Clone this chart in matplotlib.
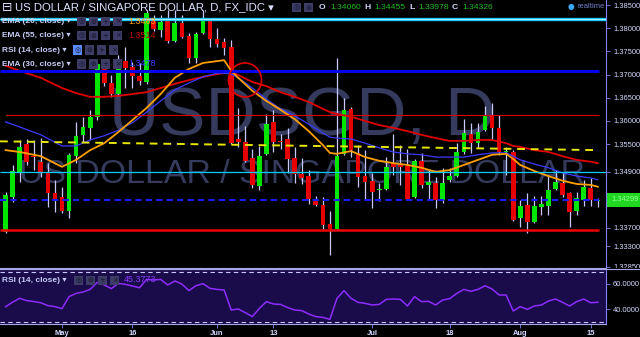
import matplotlib
matplotlib.use("Agg")
import matplotlib.pyplot as plt
from matplotlib.patches import Rectangle, Ellipse
from matplotlib.lines import Line2D
import numpy as np

plt.rcParams['font.family'] = ['Liberation Sans', 'DejaVu Sans']

# daily candles, 20 Apr -> 16 Aug 2016
opens = [1.3360, 1.3436, 1.3490, 1.3550, 1.3524, 1.3511, 1.3488, 1.3445, 1.3436, 1.3406,
         1.3524, 1.3570, 1.3585, 1.3609, 1.3723, 1.3682, 1.3658, 1.3729, 1.3716, 1.3697,
         1.3684, 1.3816, 1.3796, 1.3818, 1.3772, 1.3811, 1.3783, 1.3736, 1.3790, 1.3816,
         1.3777, 1.3770, 1.3759, 1.3561, 1.3555, 1.3520, 1.3460, 1.3529, 1.3598, 1.3557,
         1.3561, 1.3520, 1.3486, 1.3481, 1.3430, 1.3419, 1.3378, 1.3367, 1.3529, 1.3626,
         1.3531, 1.3481, 1.3471, 1.3452, 1.3453, 1.3509, 1.3505, 1.3503, 1.3436, 1.3514,
         1.3462, 1.3466, 1.3430, 1.3473, 1.3481, 1.3533, 1.3572, 1.3552, 1.3580, 1.3611,
         1.3585, 1.3533, 1.3533, 1.3391, 1.3419, 1.3382, 1.3414, 1.3417, 1.3453, 1.3466,
         1.3445, 1.3406, 1.3430, 1.3455, 1.3428]
highs = [1.3447, 1.3505, 1.3559, 1.3561, 1.3559, 1.3563, 1.3509, 1.3473, 1.3458, 1.3531,
         1.3598, 1.3609, 1.3624, 1.3725, 1.3731, 1.3699, 1.3742, 1.3759, 1.3727, 1.3725,
         1.3839, 1.3828, 1.3828, 1.3839, 1.3839, 1.3828, 1.3790, 1.3792, 1.3839, 1.3820,
         1.3800, 1.3779, 1.3775, 1.3628, 1.3589, 1.3540, 1.3546, 1.3615, 1.3624, 1.3572,
         1.3585, 1.3544, 1.3520, 1.3494, 1.3438, 1.3436, 1.3406, 1.3736, 1.3650, 1.3630,
         1.3548, 1.3537, 1.3488, 1.3466, 1.3522, 1.3572, 1.3548, 1.3540, 1.3518, 1.3531,
         1.3494, 1.3479, 1.3499, 1.3499, 1.3552, 1.3604, 1.3596, 1.3596, 1.3632, 1.3639,
         1.3613, 1.3544, 1.3537, 1.3430, 1.3445, 1.3438, 1.3438, 1.3483, 1.3494, 1.3490,
         1.3447, 1.3446, 1.3473, 1.3477, 1.3434]
lows = [1.3358, 1.3425, 1.3468, 1.3505, 1.3494, 1.3479, 1.3414, 1.3404, 1.3401, 1.3391,
        1.3509, 1.3555, 1.3559, 1.3602, 1.3675, 1.3652, 1.3654, 1.3671, 1.3671, 1.3678,
        1.3680, 1.3794, 1.3781, 1.3768, 1.3770, 1.3779, 1.3725, 1.3725, 1.3788, 1.3759,
        1.3759, 1.3742, 1.3550, 1.3544, 1.3511, 1.3455, 1.3451, 1.3527, 1.3533, 1.3540,
        1.3488, 1.3466, 1.3464, 1.3421, 1.3417, 1.3367, 1.3311, 1.3365, 1.3527, 1.3522,
        1.3458, 1.3430, 1.3412, 1.3427, 1.3451, 1.3483, 1.3462, 1.3430, 1.3434, 1.3455,
        1.3432, 1.3412, 1.3423, 1.3468, 1.3479, 1.3529, 1.3531, 1.3542, 1.3578, 1.3559,
        1.3527, 1.3483, 1.3384, 1.3371, 1.3358, 1.3380, 1.3397, 1.3397, 1.3451, 1.3436,
        1.3371, 1.3398, 1.3417, 1.3417, 1.3414]
closes = [1.3440, 1.3492, 1.3544, 1.3511, 1.3522, 1.3488, 1.3445, 1.3432, 1.3406, 1.3527,
          1.3568, 1.3587, 1.3609, 1.3723, 1.3682, 1.3658, 1.3731, 1.3714, 1.3697, 1.3686,
          1.3833, 1.3798, 1.3813, 1.3772, 1.3811, 1.3781, 1.3736, 1.3788, 1.3816, 1.3777,
          1.3766, 1.3757, 1.3552, 1.3555, 1.3514, 1.3462, 1.3524, 1.3593, 1.3555, 1.3555,
          1.3518, 1.3486, 1.3477, 1.3432, 1.3419, 1.3376, 1.3367, 1.3524, 1.3624, 1.3537,
          1.3479, 1.3468, 1.3447, 1.3453, 1.3501, 1.3501, 1.3501, 1.3432, 1.3514, 1.3462,
          1.3468, 1.3430, 1.3466, 1.3481, 1.3533, 1.3574, 1.3552, 1.3576, 1.3611, 1.3585,
          1.3533, 1.3535, 1.3386, 1.3417, 1.3382, 1.3417, 1.3421, 1.3451, 1.3468, 1.3440,
          1.3404, 1.3433, 1.3458, 1.3430, 1.34299]

rsi = [41.8, 45.5, 48.6, 46.7, 46.0, 45.0, 42.7, 41.9, 40.3, 49.9,
       52.5, 53.6, 55.7, 61.3, 59.2, 56.3, 60.5, 59.7, 58.4, 57.0,
       63.7, 63.2, 63.7, 59.2, 62.4, 60.0, 54.7, 58.6, 60.3, 56.5,
       55.7, 55.2, 39.2, 40.0, 37.1, 33.9, 40.5, 45.9, 44.0, 43.7,
       41.1, 39.2, 38.7, 36.0, 33.9, 33.3, 31.7, 48.5, 54.7, 48.5,
       45.3, 44.5, 43.2, 43.7, 47.7, 48.0, 47.7, 42.4, 49.9, 45.9,
       46.1, 43.2, 47.2, 48.3, 52.5, 55.7, 54.1, 55.7, 58.6, 56.0,
       51.2, 51.2, 38.4, 41.9, 39.7, 42.4, 43.2, 46.4, 48.0, 45.3,
       42.4, 45.9, 48.0, 45.0, 45.4]

# moving averages at these bars
ema_bars = [0, 2, 5, 8, 10, 12, 14, 16, 18, 20, 22, 24, 26, 28, 30, 31, 32, 33, 35, 37,
            39, 41, 43, 45, 46, 47, 49, 51, 53, 55, 57, 59, 61, 63, 65, 67, 69, 71, 72, 73,
            75, 77, 79, 81, 83, 84]
ema20 = [1.3537, 1.3533, 1.3524, 1.3501, 1.3516, 1.3537, 1.3552, 1.3576, 1.3602, 1.3628,
         1.3658, 1.3693, 1.3712, 1.3725, 1.3729, 1.3731, 1.3708, 1.3693, 1.3665, 1.3643,
         1.3624, 1.3604, 1.3578, 1.3548, 1.3531, 1.3529, 1.3535, 1.3522, 1.3514, 1.3509,
         1.3505, 1.3499, 1.3490, 1.3494, 1.3505, 1.3516, 1.3527, 1.3529, 1.3518, 1.3505,
         1.3492, 1.3481, 1.3471, 1.3464, 1.3462, 1.3458]
ema55 = [1.3719, 1.3708, 1.3693, 1.3671, 1.3660, 1.3652, 1.3652, 1.3654, 1.3658, 1.3662,
         1.3671, 1.3680, 1.3688, 1.3695, 1.3701, 1.3703, 1.3706, 1.3699, 1.3684, 1.3675,
         1.3662, 1.3652, 1.3641, 1.3626, 1.3619, 1.3615, 1.3609, 1.3600, 1.3591, 1.3585,
         1.3578, 1.3570, 1.3563, 1.3557, 1.3557, 1.3559, 1.3559, 1.3552, 1.3546, 1.3544,
         1.3537, 1.3533, 1.3524, 1.3516, 1.3512, 1.3509]
ema30 = [1.3598, 1.3587, 1.3570, 1.3546, 1.3546, 1.3559, 1.3568, 1.3580, 1.3596, 1.3619,
         1.3643, 1.3667, 1.3682, 1.3695, 1.3703, 1.3703, 1.3701, 1.3693, 1.3671, 1.3647,
         1.3626, 1.3611, 1.3593, 1.3574, 1.3565, 1.3563, 1.3561, 1.3552, 1.3542, 1.3533,
         1.3529, 1.3527, 1.3522, 1.3522, 1.3522, 1.3527, 1.3531, 1.3531, 1.3524, 1.3516,
         1.3507, 1.3499, 1.3488, 1.3481, 1.3477, 1.3473]

# drawn levels
lvl_cyan_top = 1.3820
lvl_blue = 1.3707
lvl_red_thin = 1.3613
lvl_yellow = [1.3556, 1.3537]
lvl_cyan = 1.3490
lvl_blue_dash = 1.3430
lvl_red = 1.3364
circle_bar, circle_price = 33.96, 1.36883

date_ticks = [8, 18, 30, 38, 52, 63, 73, 83]
date_labels = ["May", "16", "Jun", "13", "Jul", "18", "Aug", "15"]
price_ticks = [1.385, 1.380, 1.375, 1.370, 1.365, 1.360, 1.355, 1.349, 1.337, 1.333, 1.3285]
last_price = 1.34299

W, H = 640, 337
def fx(px):
    return px / W
def fy(py):
    return 1 - py / H

LAV = '#d4d8ff'
SPINE = '#7f7fff'

fig = plt.figure(figsize=(6.4, 3.37), dpi=100, facecolor='black')
ax = fig.add_axes([0, fy(268), fx(606), fy(0) - fy(268)])
ax_rsi = fig.add_axes([0, fy(324), fx(606), fy(269) - fy(324)])

x = np.arange(len(closes))
x0, x1 = -0.79, 85.16
end_bar = 84.1

# --- main panel
ax.set_facecolor('black')
ax.set_xlim(x0, x1)
ax.set_ylim(1.32828, 1.38608)

ax.text(0.499, 0.496, "USDSGD, D", transform=ax.transAxes, ha='center', va='baseline',
        fontsize=50, color='#363b5e', zorder=0.5)
ax.text(0.499, 0.317, "US DOLLAR / SINGAPORE DOLLAR", transform=ax.transAxes, ha='center',
        va='baseline', fontsize=24.4, color='#363b5e', zorder=0.5)

o = np.array(opens)
c = np.array(closes)
up = c >= o
body_col = np.where(up, '#00e600', '#e60000')
ax.vlines(x, lows, highs, color='#c8c8ff', lw=0.9, zorder=2)
ax.bar(x, np.maximum(np.abs(c - o), 0.00022), width=0.66, bottom=np.minimum(o, c),
       color=body_col, linewidth=0, zorder=2.5)

ax.plot(ema_bars, ema55, color='#e00000', lw=1.3, zorder=3)
ax.plot(ema_bars, ema30, color='#3b3bff', lw=0.9, zorder=3)
ax.plot(ema_bars, ema20, color='#ffa000', lw=1.3, zorder=3.1)

ax.hlines(lvl_cyan_top, x0, x1, color='#1ec8ff', lw=2.4, zorder=4)
ax.hlines(lvl_cyan_top, x0, x1, color='#a8f0ff', lw=0.7, zorder=4)
ax.hlines(lvl_blue, x0, end_bar, color='#0000ee', lw=2.2, zorder=4)
ax.hlines(lvl_red_thin, 0, end_bar, color='#dd0000', lw=0.8, zorder=4)
ax.plot([x0, end_bar], lvl_yellow, color='#e6e600', lw=1.4, ls=(0, (4, 3)), zorder=4)
ax.hlines(lvl_cyan, x0, x1, color='#00ccff', lw=0.9, zorder=4)
ax.hlines(lvl_blue_dash, x0, end_bar, color='#1a1aff', lw=1.5, ls=(0, (3, 2)), zorder=4)
ax.hlines(lvl_red, x0, end_bar, color='#ee0000', lw=1.8, zorder=4)
ax.add_patch(Ellipse((circle_bar, circle_price), 4.68, 0.00733, fill=False,
                     ec='#e00000', lw=1.2, zorder=4))

ax.yaxis.tick_right()
ax.set_yticks(price_ticks)
ax.set_yticklabels([f"{v:.5f}" for v in price_ticks])
ax.tick_params(axis='y', labelcolor=LAV, labelsize=5.4, length=3, width=0.6, pad=2, color=SPINE)
ax.tick_params(axis='x', bottom=False, labelbottom=False)
for s in ['left', 'top']:
    ax.spines[s].set_visible(False)
ax.spines['right'].set_color(SPINE)
ax.spines['right'].set_linewidth(0.8)
ax.spines['bottom'].set_color('#a8a8e8')
ax.spines['bottom'].set_linewidth(0.8)

# --- rsi panel
ax_rsi.set_facecolor('#1a0b4a')
ax_rsi.set_xlim(x0, x1)
ax_rsi.set_ylim(28, 72)
ax_rsi.axhline(70, color='#c8c8ff', lw=0.8, ls=(0, (4, 3)))
ax_rsi.axhline(30, color='#c8c8ff', lw=0.8, ls=(0, (4, 3)))
ax_rsi.plot(x, rsi, color='#8c2cff', lw=1.1)
ax_rsi.yaxis.tick_right()
ax_rsi.set_yticks([40, 60])
ax_rsi.set_yticklabels(["40.0000", "60.0000"])
ax_rsi.set_xticks(date_ticks)
ax_rsi.set_xticklabels(date_labels, fontweight='bold')
ax_rsi.tick_params(axis='y', labelcolor=LAV, labelsize=5.4, length=3, width=0.6, pad=2, color=SPINE)
ax_rsi.tick_params(axis='x', labelcolor=LAV, labelsize=5.4, length=3, width=0.6, pad=1.5, color=SPINE)
ax_rsi.spines['left'].set_visible(False)
ax_rsi.spines['right'].set_color(SPINE)
ax_rsi.spines['top'].set_color('#a8a8e8')
ax_rsi.spines['bottom'].set_color('#a8a8e8')
for s in ['right', 'top', 'bottom']:
    ax_rsi.spines[s].set_linewidth(0.8)

# cut the lowest price label like the panel edge does
fig.add_artist(Rectangle((fx(607), fy(272)), 1 - fx(607), 4.5 / H, transform=fig.transFigure,
                         facecolor='black', edgecolor='none', zorder=1))
fig.add_artist(Line2D([0, 1], [fy(268.8), fy(268.8)], transform=fig.transFigure,
                      color='#a8a8e8', lw=0.8, zorder=1.1))

# current price tag
fig.add_artist(Rectangle((fx(607), fy(207)), 1 - fx(607), 14 / H, transform=fig.transFigure,
                         facecolor='#1fd81f', edgecolor='none', zorder=2))
fig.text(fx(611), fy(200), f"{last_price:.5f}", fontsize=5.4, color='#9dff9d',
         va='center', ha='left', zorder=3)

# --- header and legends
fig.text(fx(2), fy(7.5), "⊟", fontsize=9, color='#dde0ff', va='center', family='DejaVu Sans')
fig.text(fx(15), fy(7.5), "US DOLLAR / SINGAPORE DOLLAR, D, FX_IDC ▾", fontsize=8.2,
         color='#dde0ff', va='center')

def icon_boxes(x_start, y_mid, first_on=False, count=4):
    for k, sym in enumerate(['◎', '⊛', '+', '×'][:count]):
        bx = x_start + 12 * k
        col = '#5a8cff' if (first_on and k == 0) else '#3c3c66'
        fig.add_artist(Rectangle((fx(bx), fy(y_mid + 4.5)), 9 / W, 9 / H,
                                 transform=fig.transFigure, facecolor=col,
                                 edgecolor='none', zorder=3))
        fig.text(fx(bx + 4.5), fy(y_mid), sym, fontsize=5, color='#15152a', ha='center',
                 va='center', family='DejaVu Sans', zorder=4)

icon_boxes(292, 7.5, count=2)

ohlc = [("O", 319, LAV), ("1.34060", 330, '#1fbf1f'), ("H", 364, LAV), ("1.34455", 374, '#1fbf1f'),
        ("L", 409, LAV), ("1.33978", 418, '#1fbf1f'), ("C", 452, LAV), ("1.34326", 462, '#1fbf1f')]
for txt, px, col in ohlc:
    fig.text(fx(px), fy(7.5), txt, fontsize=6.1, color=col, va='center',
             fontweight='bold' if col == LAV else 'normal')

fig.text(fx(571), fy(7), "●", fontsize=5.5, color='#3aa8ff', va='center', ha='center',
         family='DejaVu Sans')
fig.text(fx(577), fy(7), "realtime", fontsize=5.5, color='#7080c8', va='center')

legend_rows = [("EMA (20, close) ▾", 21.5, 77, "1.3463", '#ff9f00'),
               ("EMA (55, close) ▾", 35.5, 77, "1.3514", '#c40000'),
               ("RSI (14, close) ▾", 50, 73, None, None),
               ("EMA (30, close) ▾", 64, 77, "1.3478", '#3a3aff')]
for label, ym, bx, val, vcol in legend_rows:
    fig.text(fx(2), fy(ym), label, fontsize=6, fontweight='bold', color='#c8ccf8', va='center')
    icon_boxes(bx, ym, first_on=label.startswith("RSI"))
    if val:
        fig.text(fx(128), fy(ym), val, fontsize=6.4, color=vcol, va='center')

fig.text(fx(2), fy(280), "RSI (14, close) ▾", fontsize=6, fontweight='bold', color='#c8ccf8',
         va='center')
icon_boxes(74, 280)
fig.text(fx(124), fy(280), "45.3773", fontsize=6.4, color='#8a3cff', va='center')

fig.savefig("out.png", dpi=100, facecolor='black')
